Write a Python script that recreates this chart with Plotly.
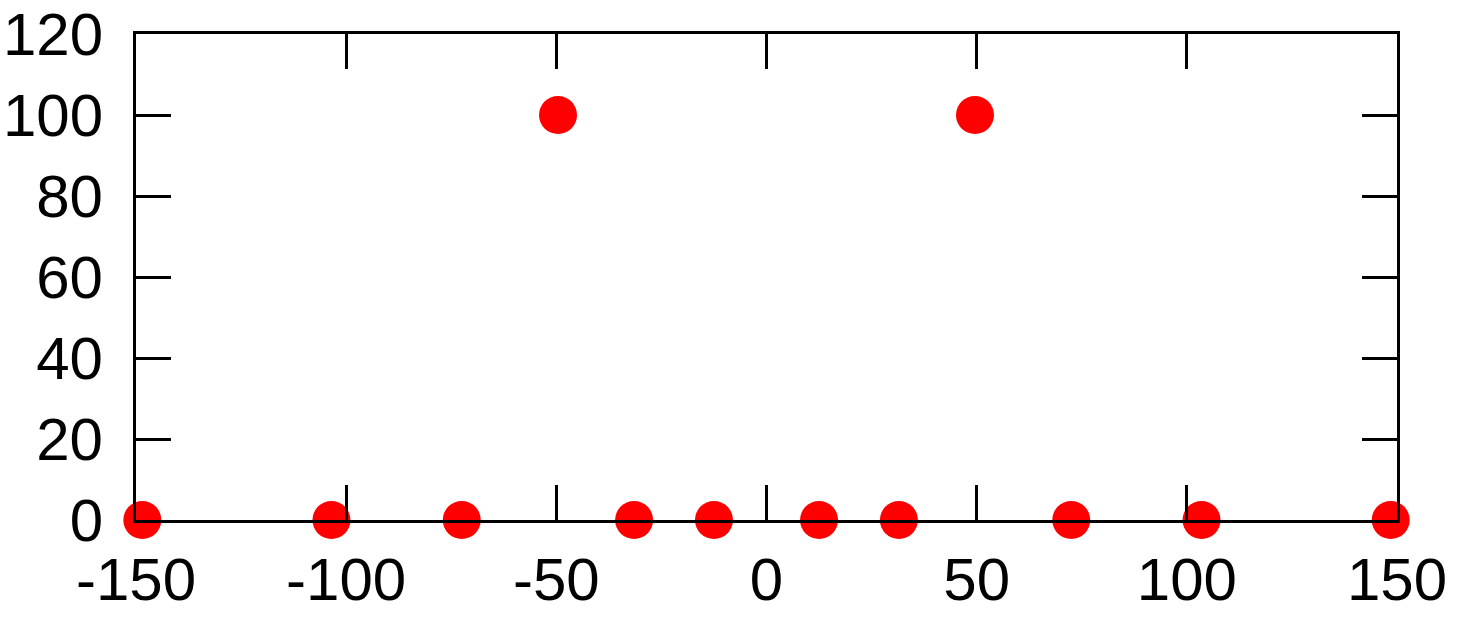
import plotly.graph_objects as go

x_vals = [-148.5, -103.5, -72.5, -49.6, -31.5, -12.5, 12.5, 31.5, 49.6, 72.5, 103.5, 148.5]
y_vals = [0, 0, 0, 100, 0, 0, 0, 0, 100, 0, 0, 0]
x_ticks = [-150, -100, -50, 0, 50, 100, 150]
x_tick_labels = ["-150", "-100", "-50", "0", "50", "100", "150"]
y_ticks = [0, 20, 40, 60, 80, 100, 120]
y_tick_labels = ["0", "20", "40", "60", "80", "100", "120"]

fig = go.Figure()
fig.add_trace(go.Scatter(
    x=x_vals, y=y_vals, mode="markers",
    marker=dict(color="#ff0000", size=38, line=dict(width=0)),
    cliponaxis=False, showlegend=False,
))

axis_common = dict(
    showgrid=False, zeroline=False, showline=True, linecolor="black", linewidth=3,
    mirror="ticks", ticks="inside", ticklen=35, tickwidth=2.5, tickcolor="black",
    automargin=False, ticklabeloverflow="allow",
    tickfont=dict(family="Liberation Sans, Arial, sans-serif", size=60, color="black"),
)
fig.update_xaxes(range=[-150, 150], tickvals=x_ticks, ticktext=x_tick_labels,
                 ticklabelstandoff=5, **axis_common)
fig.update_yaxes(range=[0, 120], tickvals=y_ticks, ticktext=y_tick_labels,
                 ticklabelstandoff=18, **axis_common)

fig.update_layout(
    width=1458, height=620,
    margin=dict(l=136, r=61, t=34, b=100, autoexpand=False),
    plot_bgcolor="white", paper_bgcolor="white",
)
# remove the browser's default 8px body margin so the figure sits at the page origin
fig.write_html("out.html", config={"displayModeBar": False},
               post_script="document.body.style.margin='0';")
